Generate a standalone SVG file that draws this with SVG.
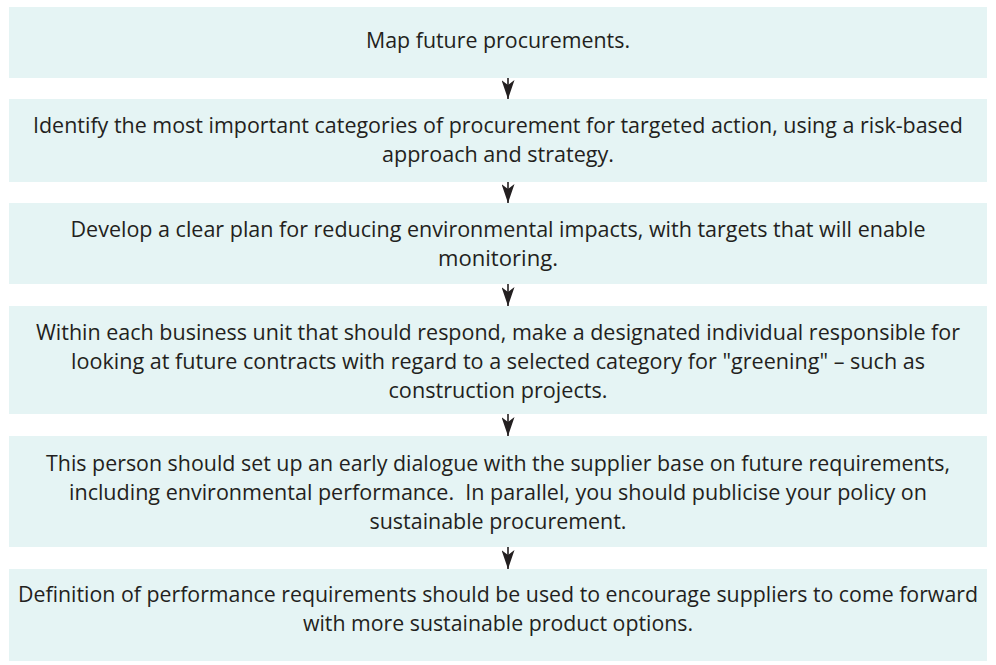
<svg xmlns="http://www.w3.org/2000/svg" width="996" height="665" viewBox="0 0 996 665">
<style>
.box{fill:#e5f4f4}
.t{font-family:"Open Sans","Noto Sans","Liberation Sans",sans-serif;font-size:22px;fill:#231f20;text-anchor:middle}
.c{stroke:#231f20;stroke-width:1.6;fill:none}
</style>
<defs>
<marker id="ah" viewBox="0 0 19 13" refX="19" refY="6.5" markerWidth="19" markerHeight="13" markerUnits="userSpaceOnUse" orient="auto">
<path d="M0,0 L19,6.5 L0,13 L5,6.5 Z" fill="#231f20"/>
</marker>
</defs>
<rect width="996" height="665" fill="#ffffff"/>
<g id="n1">
<rect class="box" x="9" y="7" width="978" height="71"/>
<text class="t" x="498" y="48" textLength="264" lengthAdjust="spacingAndGlyphs">Map future procurements.</text>
</g>
<g id="n2">
<rect class="box" x="9" y="99" width="978" height="83"/>
<text class="t" x="498" y="133" textLength="930" lengthAdjust="spacingAndGlyphs">Identify the most important categories of procurement for targeted action, using a risk-based</text>
<text class="t" x="498" y="162" textLength="232" lengthAdjust="spacingAndGlyphs">approach and strategy.</text>
</g>
<g id="n3">
<rect class="box" x="9" y="203" width="978" height="81"/>
<text class="t" x="498" y="237" textLength="855" lengthAdjust="spacingAndGlyphs">Develop a clear plan for reducing environmental impacts, with targets that will enable</text>
<text class="t" x="498" y="266" textLength="120" lengthAdjust="spacingAndGlyphs">monitoring.</text>
</g>
<g id="n4">
<rect class="box" x="9" y="306" width="978" height="108"/>
<text class="t" x="498" y="340" textLength="924" lengthAdjust="spacingAndGlyphs">Within each business unit that should respond, make a designated individual responsible for</text>
<text class="t" x="498" y="369" textLength="854" lengthAdjust="spacingAndGlyphs">looking at future contracts with regard to a selected category for "greening" – such as</text>
<text class="t" x="498" y="398" textLength="219" lengthAdjust="spacingAndGlyphs">construction projects.</text>
</g>
<g id="n5">
<rect class="box" x="9" y="436" width="978" height="111"/>
<text class="t" x="498" y="471" textLength="904" lengthAdjust="spacingAndGlyphs">This person should set up an early dialogue with the supplier base on future requirements,</text>
<text class="t" x="498" y="500" textLength="858" lengthAdjust="spacingAndGlyphs" xml:space="preserve">including environmental performance.  In parallel, you should publicise your policy on</text>
<text class="t" x="498" y="529" textLength="257" lengthAdjust="spacingAndGlyphs">sustainable procurement.</text>
</g>
<g id="n6">
<rect class="box" x="9" y="569" width="978" height="92"/>
<text class="t" x="498" y="602" textLength="960" lengthAdjust="spacingAndGlyphs">Definition of performance requirements should be used to encourage suppliers to come forward</text>
<text class="t" x="498" y="631" textLength="390" lengthAdjust="spacingAndGlyphs">with more sustainable product options.</text>
</g>
<g id="connectors">
<line class="c" x1="508" y1="78" x2="508" y2="99" marker-end="url(#ah)"/>
<line class="c" x1="508" y1="182" x2="508" y2="203" marker-end="url(#ah)"/>
<line class="c" x1="508" y1="284" x2="508" y2="306" marker-end="url(#ah)"/>
<line class="c" x1="508" y1="414" x2="508" y2="436" marker-end="url(#ah)"/>
<line class="c" x1="508" y1="547" x2="508" y2="569" marker-end="url(#ah)"/>
</g>
</svg>
